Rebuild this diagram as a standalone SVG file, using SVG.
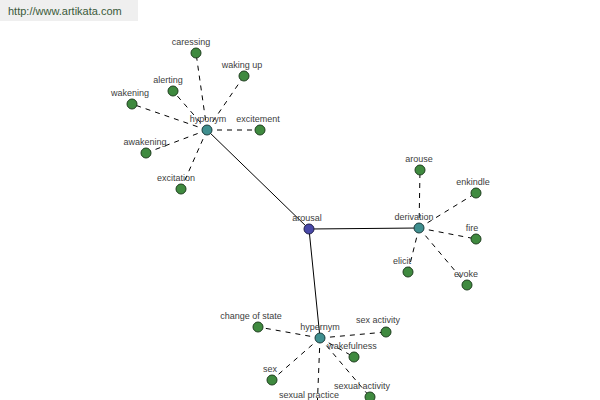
<svg xmlns="http://www.w3.org/2000/svg" width="600" height="400" viewBox="0 0 600 400">
<style>
text{font-family:"Liberation Sans",Arial,sans-serif;font-size:9px;fill:#404040;text-anchor:middle}
.solid{stroke:#000;stroke-width:1;fill:none}
.dash{stroke:#000;stroke-width:1;fill:none;stroke-dasharray:5,5}
.leaf{fill:#3f8a3f;stroke:#1f3f1f;stroke-width:1}
.hub{fill:#3f8f8f;stroke:#1f3f3f;stroke-width:1}
.root{fill:#4848a8;stroke:#20204a;stroke-width:1}
</style>
<rect x="0" y="0" width="600" height="400" fill="#fff"/>
<rect x="0" y="0" width="138" height="21" fill="#efefef"/>
<text x="8" y="15" style="font-size:11px;text-anchor:start;fill:#3a5a3a">http://www.artikata.com</text>
<g id="connectors">
<line class="solid" x1="309" y1="229" x2="207" y2="130"/>
<line class="solid" x1="309" y1="229" x2="419" y2="228"/>
<line class="solid" x1="309" y1="229" x2="320" y2="338"/>
<line class="dash" x1="207" y1="130" x2="196" y2="53"/>
<line class="dash" x1="207" y1="130" x2="244" y2="76"/>
<line class="dash" x1="207" y1="130" x2="173" y2="91"/>
<line class="dash" x1="207" y1="130" x2="132" y2="104"/>
<line class="dash" x1="207" y1="130" x2="260" y2="130"/>
<line class="dash" x1="207" y1="130" x2="146" y2="153"/>
<line class="dash" x1="207" y1="130" x2="181" y2="189"/>
<line class="dash" x1="419" y1="228" x2="420" y2="170"/>
<line class="dash" x1="419" y1="228" x2="476" y2="193"/>
<line class="dash" x1="419" y1="228" x2="476" y2="239"/>
<line class="dash" x1="419" y1="228" x2="408" y2="272"/>
<line class="dash" x1="419" y1="228" x2="467" y2="285"/>
<line class="dash" x1="320" y1="338" x2="258" y2="327"/>
<line class="dash" x1="320" y1="338" x2="386" y2="332"/>
<line class="dash" x1="320" y1="338" x2="354" y2="357"/>
<line class="dash" x1="320" y1="338" x2="272" y2="380"/>
<line class="dash" x1="320" y1="338" x2="370" y2="397"/>
<line class="dash" x1="320" y1="338" x2="317" y2="412"/>
</g>
<g id="arousal"><circle class="root" cx="309" cy="229" r="5"/><text x="307" y="221">arousal</text></g>
<g id="hyponym"><circle class="hub" cx="207" cy="130" r="5"/><text x="208" y="122">hyponym</text></g>
<g id="derivation"><circle class="hub" cx="419" cy="228" r="5"/><text x="414" y="220">derivation</text></g>
<g id="hypernym"><circle class="hub" cx="320" cy="338" r="5"/><text x="320" y="330">hypernym</text></g>
<g id="caressing"><circle class="leaf" cx="196" cy="53" r="5"/><text x="191" y="45">caressing</text></g>
<g id="waking-up"><circle class="leaf" cx="244" cy="76" r="5"/><text x="242" y="68">waking up</text></g>
<g id="alerting"><circle class="leaf" cx="173" cy="91" r="5"/><text x="168" y="83">alerting</text></g>
<g id="wakening"><circle class="leaf" cx="132" cy="104" r="5"/><text x="130" y="96">wakening</text></g>
<g id="excitement"><circle class="leaf" cx="260" cy="130" r="5"/><text x="258" y="122">excitement</text></g>
<g id="awakening"><circle class="leaf" cx="146" cy="153" r="5"/><text x="145" y="145">awakening</text></g>
<g id="excitation"><circle class="leaf" cx="181" cy="189" r="5"/><text x="176" y="181">excitation</text></g>
<g id="arouse"><circle class="leaf" cx="420" cy="170" r="5"/><text x="419" y="162">arouse</text></g>
<g id="enkindle"><circle class="leaf" cx="476" cy="193" r="5"/><text x="473" y="185">enkindle</text></g>
<g id="fire"><circle class="leaf" cx="476" cy="239" r="5"/><text x="472" y="231">fire</text></g>
<g id="elicit"><circle class="leaf" cx="408" cy="272" r="5"/><text x="402" y="264">elicit</text></g>
<g id="evoke"><circle class="leaf" cx="467" cy="285" r="5"/><text x="466" y="277">evoke</text></g>
<g id="change-of-state"><circle class="leaf" cx="258" cy="327" r="5"/><text x="251" y="319">change of state</text></g>
<g id="sex-activity"><circle class="leaf" cx="386" cy="332" r="5"/><text x="378" y="323">sex activity</text></g>
<g id="wakefulness"><circle class="leaf" cx="354" cy="357" r="5"/><text x="352" y="349">wakefulness</text></g>
<g id="sex"><circle class="leaf" cx="272" cy="380" r="5"/><text x="270" y="372">sex</text></g>
<g id="sexual-activity"><circle class="leaf" cx="370" cy="397" r="5"/><text x="362" y="389">sexual activity</text></g>
<g id="sexual-practice"><circle class="leaf" cx="317" cy="412" r="5"/><text x="309" y="397.5">sexual practice</text></g>
</svg>
